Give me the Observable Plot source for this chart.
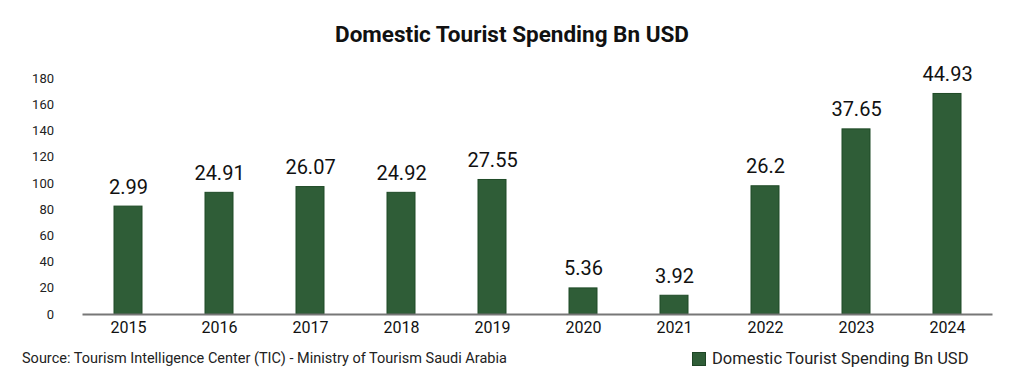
<!DOCTYPE html>
<html><head><meta charset="utf-8">
<script src="https://cdn.jsdelivr.net/npm/d3@7"></script>
<script src="https://cdn.jsdelivr.net/npm/@observablehq/plot@0.6"></script>
<style>
body{margin:0;background:#fff;font-family:Roboto,"Noto Sans",sans-serif;width:1024px;height:382px;overflow:hidden}
#title{height:60px;line-height:68px;text-align:center;font-weight:700;font-size:22.5px;color:#111}
#foot{position:relative;height:37px;font-size:14.5px;color:#222}
#src{position:absolute;left:22px;top:5px}
#leg{position:absolute;left:692px;top:4px;font-size:16.5px;display:flex;align-items:center}
#leg span.sw{display:inline-block;width:12px;height:12px;background:#2f5d37;border:1px solid #1e4525;margin-right:6px}
</style></head>
<body>
<div id="title">Domestic Tourist Spending Bn USD</div>
<div id="chart"></div>
<div id="foot"><div id="src">Source: Tourism Intelligence Center (TIC) - Ministry of Tourism Saudi Arabia</div><div id="leg"><span class="sw"></span>Domestic Tourist Spending Bn USD</div></div>
<script>
const years = ["2015","2016","2017","2018","2019","2020","2021","2022","2023","2024"];
const barValues = [82.3, 92.8, 97.2, 92.8, 102.6, 19.9, 14.3, 97.8, 141.2, 168.2];
const labels = ["2.99","24.91","26.07","24.92","27.55","5.36","3.92","26.2","37.65","44.93"];
const yTicks = [0,20,40,60,80,100,120,140,160,180];

const data = years.map((y,i)=>({year:y, v:barValues[i], label:labels[i]}));

const chart = Plot.plot({
  width:1024, height:285,
  marginTop:18, marginBottom:31, marginLeft:82.5, marginRight:31.5,
  style:{fontFamily:"Roboto, sans-serif", background:"#fff"},
  x:{domain:years, paddingInner:0.69, paddingOuter:0.345, label:null},
  y:{domain:[0,180], ticks:yTicks, label:null},
  marks:[
    Plot.axisY({ticks:yTicks, tickSize:0, tickPadding:29, fontSize:13, label:null, fill:"#222"}),
    Plot.axisX({tickSize:0, tickPadding:7, fontSize:16, label:null, fill:"#111"}),
    Plot.barY(data,{x:"year", y:"v", fill:"#2f5d37", stroke:"#1e4a26", strokeWidth:1}),
    Plot.ruleY([0],{stroke:"#777", strokeWidth:2}),
    Plot.text(data,{x:"year", y:"v", text:"label", dy:-13, lineAnchor:"bottom", fontSize:20, fill:"#111"})
  ]
});
document.getElementById("chart").appendChild(chart);
</script>
</body></html>
